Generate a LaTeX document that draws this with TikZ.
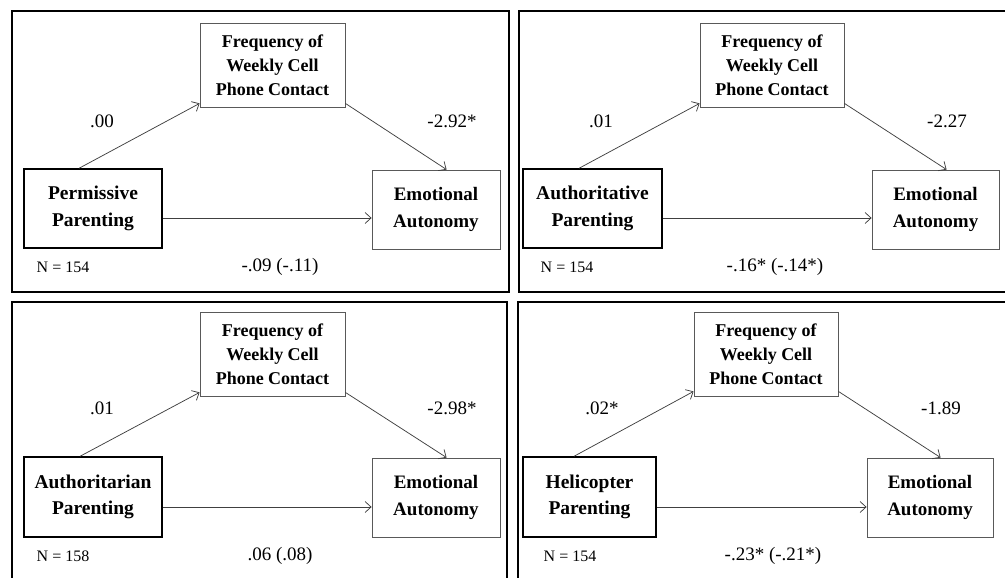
\documentclass[tikz,border=0pt]{standalone}
\usepackage{fontspec}
\setmainfont{Liberation Serif}
\usetikzlibrary{arrows.meta}
\begin{document}
\begin{tikzpicture}[x=1pt,y=-1pt,
  frame/.style={draw=black,line width=1.4pt},
  xbox/.style={draw=black,line width=1.6pt,inner sep=0pt,minimum height=79pt,align=center,
    font=\fontsize{19.5}{26.5}\selectfont\bfseries},
  mbox/.style={draw=black!65,line width=0.8pt,inner sep=0pt,minimum width=145pt,minimum height=84pt,align=center,
    font=\fontsize{18}{24}\selectfont\bfseries},
  ybox/.style={draw=black!65,line width=0.8pt,inner sep=0pt,minimum height=79pt,align=center,
    font=\fontsize{19}{26.5}\selectfont\bfseries},
  arr/.style={draw=black!75,line width=0.75pt,-{Straight Barb[length=6pt,width=11pt]}},
  coef/.style={font=\fontsize{19}{22}\selectfont,inner sep=0pt},
  ntext/.style={font=\fontsize{16}{18}\selectfont,inner sep=0pt}]
\useasboundingbox (0,0) rectangle (1005,578);
\clip (0,0) rectangle (1005,578);
% frames
\draw[frame] (12,11) rectangle (509,292);
\draw[frame] (519,11) rectangle (1015,292);
\draw[frame] (12,302) rectangle (507,595);
\draw[frame] (518,302) rectangle (1015,595);

% ---------- Panel 1 ----------
\node[mbox] (M1) at (272.5,65) {Frequency of\\Weekly Cell\\Phone Contact};
\node[xbox,minimum width=138pt] (X1) at (93,208.5) {Permissive\\Parenting};
\node[ybox,minimum width=128pt] (Y1) at (436,209.5) {Emotional\\Autonomy};
\draw[arr] ([xshift=56pt]X1.north west) -- ([yshift=4pt]M1.south west);
\draw[arr] ([yshift=4pt]M1.south east) -- ([xshift=75pt]Y1.north west);
\draw[arr] ([yshift=-9.5pt]X1.east) -- ([yshift=-8.5pt]Y1.west);
\node[coef] (a1) at (102,121) {.00};
\node[coef] (b1) at (452,121) {-2.92*};
\node[ntext] (n1) at (63,267) {N = 154};
\node[coef] (c1) at (280,267) {-.09 (-.11)};

% ---------- Panel 2 ----------
\node[mbox,minimum width=144pt] (M2) at (772,65) {Frequency of\\Weekly Cell\\Phone Contact};
\node[xbox,minimum width=139pt] (X2) at (592.5,208.5) {Authoritative\\Parenting};
\node[ybox,minimum width=127pt] (Y2) at (935.5,209.5) {Emotional\\Autonomy};
\draw[arr] ([xshift=57pt]X2.north west) -- ([yshift=4pt]M2.south west);
\draw[arr] ([yshift=4pt]M2.south east) -- ([xshift=75pt]Y2.north west);
\draw[arr] ([yshift=-9.5pt]X2.east) -- ([yshift=-8.5pt]Y2.west);
\node[coef] (a2) at (601,121) {.01};
\node[coef] (b2) at (947,121) {-2.27};
\node[ntext] (n2) at (567,267) {N = 154};
\node[coef] (c2) at (775,267) {-.16* (-.14*)};

% ---------- Panel 3 ----------
\node[mbox] (M3) at (272.5,354) {Frequency of\\Weekly Cell\\Phone Contact};
\node[xbox,minimum width=138pt,minimum height=80pt] (X3) at (93,497) {Authoritarian\\Parenting};
\node[ybox,minimum width=128pt] (Y3) at (436,497.5) {Emotional\\Autonomy};
\draw[arr] ([xshift=57pt]X3.north west) -- ([yshift=4pt]M3.south west);
\draw[arr] ([yshift=4pt]M3.south east) -- ([xshift=75pt]Y3.north west);
\draw[arr] ([yshift=-10pt]X3.east) -- ([yshift=-9.5pt]Y3.west);
\node[coef] (a3) at (102,408) {.01};
\node[coef] (b3) at (452,408) {-2.98*};
\node[ntext] (n3) at (63,556) {N = 158};
\node[coef] (c3) at (280,556) {.06 (.08)};

% ---------- Panel 4 ----------
\node[mbox,minimum width=144pt] (M4) at (766,354) {Frequency of\\Weekly Cell\\Phone Contact};
\node[xbox,minimum width=133pt,minimum height=80pt] (X4) at (589.5,497) {Helicopter\\Parenting};
\node[ybox,minimum width=126pt] (Y4) at (930,497.5) {Emotional\\Autonomy};
\draw[arr] ([xshift=52pt]X4.north west) -- ([yshift=5pt]M4.south west);
\draw[arr] ([yshift=5pt]M4.south east) -- ([xshift=74pt]Y4.north west);
\draw[arr] ([yshift=-10pt]X4.east) -- ([yshift=-9.5pt]Y4.west);
\node[coef] (a4) at (602,408) {.02*};
\node[coef] (b4) at (941,408) {-1.89};
\node[ntext] (n4) at (570,556) {N = 154};
\node[coef] (c4) at (773,556) {-.23* (-.21*)};
\end{tikzpicture}
\end{document}
